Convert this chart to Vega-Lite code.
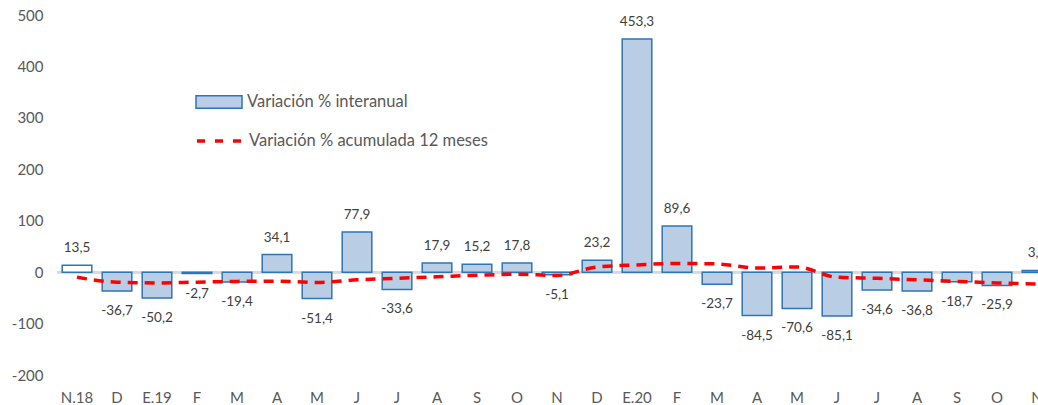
{
  "$schema": "https://vega.github.io/schema/vega-lite/v6.json",
  "width": 1000,
  "height": 360,
  "autosize": {"type": "none"},
  "padding": {"left": 57, "top": 15, "right": 0, "bottom": 30},
  "background": "white",
  "config": {
    "view": {"stroke": null},
    "font": "Lato",
    "locale": {
      "number": {"decimal": ",", "thousands": ".", "grouping": [3], "currency": ["", " €"], "minus": "-"}
    }
  },
  "data": {
    "values": [
      {"periodo": "2018-11", "interanual": 13.5, "acumulada": -10},
      {"periodo": "2018-12", "interanual": -36.7, "acumulada": -19.5},
      {"periodo": "2019-01", "interanual": -50.2, "acumulada": -21},
      {"periodo": "2019-02", "interanual": -2.7, "acumulada": -19.5},
      {"periodo": "2019-03", "interanual": -19.4, "acumulada": -18},
      {"periodo": "2019-04", "interanual": 34.1, "acumulada": -17.5},
      {"periodo": "2019-05", "interanual": -51.4, "acumulada": -20},
      {"periodo": "2019-06", "interanual": 77.9, "acumulada": -15},
      {"periodo": "2019-07", "interanual": -33.6, "acumulada": -12},
      {"periodo": "2019-08", "interanual": 17.9, "acumulada": -9},
      {"periodo": "2019-09", "interanual": 15.2, "acumulada": -6},
      {"periodo": "2019-10", "interanual": 17.8, "acumulada": -4},
      {"periodo": "2019-11", "interanual": -5.1, "acumulada": -6.5},
      {"periodo": "2019-12", "interanual": 23.2, "acumulada": 10},
      {"periodo": "2020-01", "interanual": 453.3, "acumulada": 14},
      {"periodo": "2020-02", "interanual": 89.6, "acumulada": 17},
      {"periodo": "2020-03", "interanual": -23.7, "acumulada": 16},
      {"periodo": "2020-04", "interanual": -84.5, "acumulada": 8},
      {"periodo": "2020-05", "interanual": -70.6, "acumulada": 10},
      {"periodo": "2020-06", "interanual": -85.1, "acumulada": -10},
      {"periodo": "2020-07", "interanual": -34.6, "acumulada": -12},
      {"periodo": "2020-08", "interanual": -36.8, "acumulada": -15},
      {"periodo": "2020-09", "interanual": -18.7, "acumulada": -18},
      {"periodo": "2020-10", "interanual": -25.9, "acumulada": -21},
      {"periodo": "2020-11", "interanual": 3.4, "acumulada": -23}
    ]
  },
  "layer": [
    {
      "mark": {"type": "rule", "color": "#D9D9D9", "strokeWidth": 2},
      "encoding": {
        "y": {"datum": 0, "type": "quantitative", "scale": {"domain": [-200, 500], "nice": false}}
      }
    },
    {
      "mark": {"type": "bar", "stroke": "#2E75B6", "strokeWidth": 1.5},
      "encoding": {
        "x": {
          "field": "periodo",
          "type": "ordinal",
          "sort": null,
          "scale": {"paddingInner": 0.26, "paddingOuter": 0.13},
          "axis": {
            "title": null,
            "domain": false,
            "ticks": false,
            "labelAngle": 0,
            "labelFontSize": 15,
            "labelColor": "#595959",
            "labelPadding": 15,
            "labelExpr": "(datum.value == '2018-11' || slice(datum.value, 5) == '01') ? substring('EFMAMJJASOND', toNumber(slice(datum.value, 5)) - 1, toNumber(slice(datum.value, 5))) + '.' + slice(datum.value, 2, 4) : substring('EFMAMJJASOND', toNumber(slice(datum.value, 5)) - 1, toNumber(slice(datum.value, 5)))"
          }
        },
        "y": {
          "field": "interanual",
          "type": "quantitative",
          "scale": {"domain": [-200, 500], "nice": false},
          "axis": {
            "title": null,
            "values": [-200, -100, 0, 100, 200, 300, 400, 500],
            "format": "d",
            "domain": false,
            "ticks": false,
            "grid": false,
            "labelFontSize": 15,
            "labelColor": "#595959",
            "labelPadding": 14
          }
        },
        "fill": {
          "condition": {"test": "datum.periodo === '2018-11'", "value": "#FFFFFF"},
          "datum": "Variación % interanual",
          "type": "nominal",
          "scale": {"range": ["#B9CDE5"]},
          "legend": {
            "title": null,
            "orient": "none",
            "legendX": 138,
            "legendY": 63,
            "padding": 0,
            "symbolType": "M-1,-0.27H1V0.27H-1Z",
            "symbolSize": 2116,
            "symbolStrokeColor": "#2E75B6",
            "symbolStrokeWidth": 1.5,
            "symbolOpacity": 1,
            "labelFontSize": 16.5,
            "labelColor": "#595959",
            "labelOffset": 4,
            "labelLimit": 0
          }
        }
      }
    },
    {
      "mark": {"type": "line", "strokeDash": [10, 7], "strokeWidth": 3.5, "interpolate": "monotone"},
      "encoding": {
        "x": {"field": "periodo", "type": "ordinal", "sort": null},
        "y": {"field": "acumulada", "type": "quantitative", "scale": {"domain": [-200, 500], "nice": false}},
        "stroke": {
          "datum": "Variación % acumulada 12 meses",
          "type": "nominal",
          "scale": {"range": ["#FF0000"]},
          "legend": {
            "title": null,
            "orient": "none",
            "legendX": 138,
            "legendY": 101,
            "padding": 0,
            "symbolType": "stroke",
            "symbolSize": 2116,
            "symbolStrokeWidth": 3.5,
            "symbolDash": [8, 10],
            "labelFontSize": 16.5,
            "labelColor": "#595959",
            "labelOffset": 4,
            "labelLimit": 0
          }
        }
      }
    },
    {
      "transform": [{"filter": "datum.interanual >= 0"}],
      "mark": {"type": "text", "baseline": "middle", "dy": -17, "fontSize": 13.5, "color": "#404040"},
      "encoding": {
        "x": {"field": "periodo", "type": "ordinal", "sort": null},
        "y": {"field": "interanual", "type": "quantitative", "scale": {"domain": [-200, 500], "nice": false}},
        "text": {"field": "interanual", "type": "quantitative", "format": ".1f"}
      }
    },
    {
      "transform": [{"filter": "datum.interanual < 0"}],
      "mark": {"type": "text", "baseline": "middle", "dy": 20, "fontSize": 13.5, "color": "#404040"},
      "encoding": {
        "x": {"field": "periodo", "type": "ordinal", "sort": null},
        "y": {"field": "interanual", "type": "quantitative", "scale": {"domain": [-200, 500], "nice": false}},
        "text": {"field": "interanual", "type": "quantitative", "format": ".1f"}
      }
    }
  ]
}
